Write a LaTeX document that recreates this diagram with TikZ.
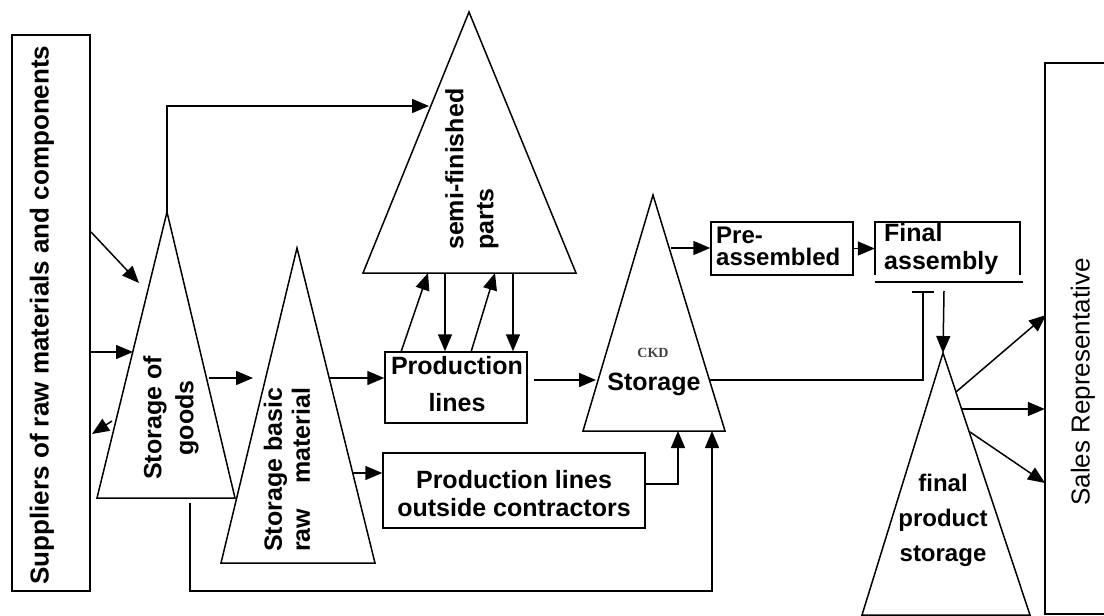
\documentclass[tikz,border=0pt]{standalone}
\usepackage{fontspec}
\setmainfont{Liberation Sans}
\newfontfamily\ckdfont{Liberation Serif}
\usetikzlibrary{arrows.meta,calc}
\begin{document}
\begin{tikzpicture}[x=1pt,y=-1pt,
  ln/.style={line width=1.5pt, line join=miter},
  arr/.style={ln,-{Triangle[length=17pt,width=14pt]}},
  txt/.style={font=\fontsize{25}{30}\selectfont\bfseries, inner sep=0pt, align=center},
  boxnode/.style={draw, line width=1.5pt, inner sep=0pt},
]
\useasboundingbox (0,0) rectangle (1104,616);

% ---------- boxes ----------
\node[boxnode, minimum width=78pt, minimum height=556pt] (sup) at (51,313) {};
\node[txt, rotate=90, font=\fontsize{26}{30}\selectfont\bfseries] (suptxt) at (42,315) {Suppliers of raw materials and components};

\node[boxnode, minimum width=142pt, minimum height=71pt] (pl) at (456,387.5) {};
\node[txt, font=\fontsize{25}{37}\selectfont\bfseries] (pltxt) at (457,384) {Production\\lines};

\node[boxnode, minimum width=262pt, minimum height=75pt] (oc) at (514,490.5) {};
\node[txt, font=\fontsize{25}{28}\selectfont\bfseries] (octxt) at (514,494) {Production lines\\outside contractors};

\node[boxnode, minimum width=142pt, minimum height=53pt] (pa) at (782,248.5) {};
\node[txt, anchor=west, align=left, font=\fontsize{24}{22}\selectfont\bfseries] (patxt) at (716,246) {Pre-\\assembled};

\node[minimum width=145pt, minimum height=53pt, inner sep=0pt] (fa) at (947.5,248.5) {};
\draw[ln] (fa.south west) -- (fa.north west) -- (fa.north east) -- (fa.south east);
\draw[ln] ([yshift=-7pt]fa.south west) -- ([shift={(3pt,-7pt)}]fa.south east);
\node[txt, anchor=west, align=left, font=\fontsize{25}{28}\selectfont\bfseries] (fatxt) at (884,249) {Final\\assembly};

\node[minimum width=59pt, minimum height=551pt, inner sep=0pt] (sal) at (1074.5,338.5) {};
\draw[ln] (sal.north east) -- (sal.north west) -- (sal.south west) -- (sal.south east);
\node[txt, rotate=90, font=\fontsize{26}{30}\selectfont] (saltxt) at (1083,382) {Sales Representative};

% ---------- triangles ----------
\coordinate (sgA) at (167,212); \coordinate (sgL) at (97,498); \coordinate (sgR) at (235,498);
\draw[ln] (sgA) -- (sgL) -- (sgR) -- cycle;
\node[txt, rotate=90, font=\fontsize{25}{32}\selectfont\bfseries] (sgtxt) at (171,418) {Storage of\\goods};

\coordinate (sbA) at (297,248); \coordinate (sbL) at (221,563); \coordinate (sbR) at (375,563);
\draw[ln] (sbA) -- (sbL) -- (sbR) -- cycle;
\node[txt, rotate=90, anchor=west, align=left, font=\fontsize{25}{28}\selectfont\bfseries] (sbtxt) at (287,552) {Storage basic\\raw\quad material};

\coordinate (sfA) at (469,12); \coordinate (sfL) at (363,273); \coordinate (sfR) at (576,273);
\draw[ln] (sfA) -- (sfL) -- (sfR) -- cycle;
\node[txt, rotate=90, anchor=west, align=left, font=\fontsize{25}{30}\selectfont\bfseries] (sftxt) at (472,250) {semi-finished\\parts};

\coordinate (ckA) at (653,195); \coordinate (ckL) at (583,431); \coordinate (ckR) at (725,431);
\draw[ln] (ckA) -- (ckL) -- (ckR) -- cycle;
\node[inner sep=0pt, font=\ckdfont\bfseries\fontsize{14}{16}\selectfont, text=black!75] (ckdtxt) at (653,353) {CKD};
\node[txt] (ckstxt) at (654,384) {Storage};

\coordinate (fpA) at (943,353); \coordinate (fpL) at (862,615); \coordinate (fpR) at (1030,615);
\draw[ln] (fpA) -- (fpL) -- (fpR) -- cycle;
\node[txt, font=\fontsize{24}{35}\selectfont\bfseries] (fptxt) at (943,520) {final\\product\\storage};

% ---------- connector end points ----------
\coordinate (supO1) at (91,232);  \coordinate (sgI1) at (139,283);
\coordinate (supO2) at (91,352);  \coordinate (sgI2) at (133,352);
\coordinate (sgO3) at (112,421);  \coordinate (supI3) at (92,434);
\coordinate (sfI) at (429,106);
\coordinate (sgO) at (209,378);   \coordinate (sbI) at (253,378);
\coordinate (sbO1) at (330,378);  \coordinate (sbO2) at (353,473);
\coordinate (sfU1) at (428,273);  \coordinate (sfU2) at (495,273);
\coordinate (sfD1) at (445,273);  \coordinate (sfD2) at (513,273);
\coordinate (ckI1) at (596,380);
\coordinate (ckO1) at (671,248);  \coordinate (ckO2) at (709,380);
\coordinate (barEnd) at (923,291);
\coordinate (faO) at (944,291);
\coordinate (fpO1) at (956,392);  \coordinate (fpO2) at (962,409); \coordinate (fpO3) at (970,432);
\coordinate (salI1) at (1046,315); \coordinate (salI3) at (1045,483);
\coordinate (ckI2) at (678,431);  \coordinate (ckI3) at (712,431);
\coordinate (sgB) at (190,503);   \coordinate (botC) at (190,591);

% ---------- connectors ----------
\draw[arr] (supO1) -- (sgI1);
\draw[arr] (supO2) -- (sgI2);
\draw[arr] (sgO3) -- (supI3);
\draw[arr] (sgA) |- (sfI);
\draw[arr] (sgO) -- (sbI);
\draw[arr] (sbO1) -- (sbO1 -| pl.west);
\draw[arr] (sbO2) -- (sbO2 -| oc.west);

\draw[arr] ([xshift=17pt]pl.north west) -- (sfU1);
\draw[arr] ([xshift=87pt]pl.north west) -- (sfU2);
\draw[arr] (sfD1) -- (sfD1 |- pl.north);
\draw[arr] (sfD2) -- (sfD2 |- pl.north);

\draw[arr] ([shift={(6pt,7.5pt)}]pl.east) -- (ckI1);
\draw[arr] (ckO1) -- (ckO1 -| pa.west);
\draw[arr] (pa.east) -- (fa.west);
\draw[ln,-{Bar[width=22pt]}] (ckO2) -| (barEnd);
\draw[arr] (faO) -- (fpA);
\draw[arr] (fpO1) -- (salI1);
\draw[arr] (fpO2) -- (fpO2 -| sal.west);
\draw[arr] (fpO3) -- (salI3);
\draw[arr] ([yshift=6.5pt]oc.east) -| (ckI2);
\draw[arr] (sgB) -- (botC) -| (ckI3);
\end{tikzpicture}
\end{document}
